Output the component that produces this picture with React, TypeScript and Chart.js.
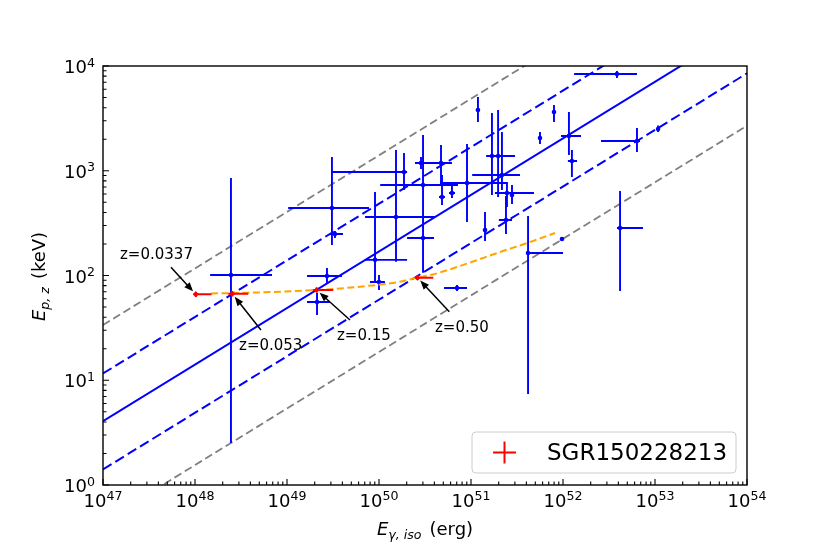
import React, { useEffect, useRef } from 'react';
import { Chart, registerables } from 'chart.js';

Chart.register(...registerables);

const FONT = '"DejaVu Sans", "Liberation Sans", sans-serif';

// comparison sample: E_iso (erg) and rest-frame E_p (keV), with error ranges
const eIso = [2.46e48, 2.72e49, 2.12e49, 1.87e50, 3.08e49, 3.32e49, 1.53e50, 9.05e49, 1.0e50, 3.01e50, 3.01e50, 4.72e50, 2.86e50, 4.84e50, 6.21e50, 9.05e50, 1.69e51, 1.97e51, 2.17e51, 2.46e51, 2.79e51, 2.40e51, 1.42e51, 7.04e50, 4.17e51, 9.75e51, 1.19e51, 7.98e51, 5.62e51, 1.16e52, 1.25e52, 3.86e52, 6.37e52, 1.08e53, 4.17e52];
const eIsoLow = [1.46e48, 1.65e49, 1.65e49, 3.08e49, 1.03e49, 2.93e49, 7.05e49, 7.05e49, 7.98e49, 1.03e50, 2.02e50, 3.41e50, 2.46e50, 4.49e50, 5.77e50, 4.60e50, 1.46e51, 1.61e51, 1.03e51, 1.82e51, 2.65e51, 2.01e51, 1.35e51, 5.09e50, 3.96e51, 9.75e51, 1.13e51, 7.62e51, 5.37e51, 9.51e51, 1.13e52, 1.32e52, 2.59e52, 1.05e53, 3.86e52];
const eIsoHigh = [6.87e48, 3.96e49, 2.93e49, 2.02e50, 7.79e49, 4.06e49, 4.06e50, 2.02e50, 1.16e50, 7.22e50, 3.96e50, 6.21e50, 3.41e50, 5.21e50, 6.70e50, 2.52e51, 2.07e51, 3.01e51, 3.41e51, 4.84e51, 2.93e51, 2.79e51, 1.49e51, 9.05e50, 1.0e52, 9.75e51, 1.25e51, 8.36e51, 5.89e51, 1.57e52, 1.42e52, 6.37e52, 6.87e52, 1.12e53, 7.41e52];
const epz = [101, 98.9, 55.8, 973, 441, 249, 362, 141, 86.7, 731, 228, 1186, 1186, 561, 613, 764, 1383, 1383, 910, 613, 587, 339, 272, 76.0, 164, 223, 3802, 3639, 2055, 2148, 1239, 8395, 1923, 2504, 284];
const epzLow = [2.52, 83.0, 42.0, 655, 195, 228, 135, 84.8, 72.7, 378, 106, 715, 1040, 471, 549, 324, 587, 561, 655, 451, 482, 249, 213, 71.1, 7.39, 223, 2919, 2919, 1800, 1413, 871, 7678, 1510, 2344, 71.1];
const epzHigh = [853, 118, 68.1, 1477, 1352, 266, 1578, 627, 101, 2195, 471, 1762, 1352, 910, 715, 1800, 3556, 3802, 2344, 781, 731, 574, 404, 81.2, 370, 223, 5058, 4246, 2344, 3639, 1578, 8954, 2559, 2700, 641];

// SGR 150228213 at the four trial redshifts
const sgrLabel = 'SGR150228213';
const sgrE = [1.02e48, 2.54e48, 2.10e49, 2.62e50];
const sgrELow = [0.96e48, 2.30e48, 1.90e49, 2.46e50];
const sgrEHigh = [1.51e48, 3.79e48, 3.18e49, 3.89e50];
const sgrEp = [66.2, 67.0, 72.7, 95.3];
const sgrEpLow = [62.5, 63.3, 68.8, 90.5];
const sgrEpHigh = [70.0, 71.0, 76.8, 100.5];
const sgrZ = ['z=0.0337', 'z=0.053', 'z=0.15', 'z=0.50'];

// annotation text anchors and arrow tails (data coords)
const annoTextE = [1.53e47, 3.01e48, 3.49e49, 4.06e50];
const annoTextEp = [145.3, 19.4, 24.2, 29.1];
const annoTailE = [5.48e47, 5.21e48, 4.84e49, 5.81e50];
const annoTailEp = [119.7, 30.2, 37.6, 45.1];

// redshift track of the source (orange dashed)
const curveE = [1.49e48, 3.77e48, 8.4e48, 2.12e49, 3.16e49, 7.4e49, 1.57e50, 2.59e50, 3.86e50, 9.06e50, 2.07e51, 4.06e51, 8.2e51];
const curveEp = [67.3, 68.5, 70.0, 72.7, 74.3, 79.4, 86.1, 95.3, 102.3, 130, 167.6, 204, 254.6];

// Amati relation and its scatter bands, read at both ends of the x range
const relE = [1e47, 1e54];
const amatiMid = [4.07, 24500];
const amatiUp1 = [11.6, 70100];
const amatiLow1 = [1.41, 8510];
const amatiUp2 = [33.7, 202800];
const amatiLow2 = [0.447, 2690];

const xExps = [47, 48, 49, 50, 51, 52, 53, 54];
const yExps = [0, 1, 2, 3, 4];

const pts = (xs: number[], ys: number[]) => xs.map((x, i) => ({ x, y: ys[i] }));

function drawPow(ctx: CanvasRenderingContext2D, exp: number, x: number, y: number, align: 'center' | 'right') {
  ctx.font = `18px ${FONT}`;
  const wb = ctx.measureText('10').width;
  ctx.font = `12.6px ${FONT}`;
  const we = ctx.measureText(String(exp)).width;
  const left = align === 'center' ? x - (wb + we) / 2 : x - (wb + we);
  ctx.font = `18px ${FONT}`;
  ctx.fillText('10', left, y);
  ctx.font = `12.6px ${FONT}`;
  ctx.fillText(String(exp), left + wb, y - 6.5);
}

function drawSubLabel(ctx: CanvasRenderingContext2D, main: string, sub: string, rest: string, cx: number, y: number) {
  ctx.font = `italic 18px ${FONT}`;
  const wm = ctx.measureText(main).width;
  ctx.font = `italic 12.6px ${FONT}`;
  const ws = ctx.measureText(sub).width;
  ctx.font = `18px ${FONT}`;
  const wr = ctx.measureText(rest).width;
  const gap = 8;
  let left = cx - (wm + ws + gap + wr) / 2;
  ctx.font = `italic 18px ${FONT}`;
  ctx.fillText(main, left, y);
  left += wm;
  ctx.font = `italic 12.6px ${FONT}`;
  ctx.fillText(sub, left, y + 3.5);
  left += ws + gap;
  ctx.font = `18px ${FONT}`;
  ctx.fillText(rest, left, y);
}

const decor = {
  id: 'decor',
  beforeDatasetDraw(chart: any, args: any) {
    const ds: any = chart.data.datasets[args.index];
    const eb = ds.errorBars;
    if (!eb) return;
    const { ctx, chartArea: a, scales: { x, y } } = chart;
    ctx.save();
    ctx.beginPath();
    ctx.rect(a.left, a.top, a.right - a.left, a.bottom - a.top);
    ctx.clip();
    ctx.strokeStyle = ds.borderColor;
    ctx.lineWidth = eb.width;
    ctx.beginPath();
    eb.x.forEach((v: number, i: number) => {
      const px = x.getPixelForValue(v);
      const py = y.getPixelForValue(eb.y[i]);
      const x0 = x.getPixelForValue(eb.xLow[i]);
      const x1 = x.getPixelForValue(eb.xHigh[i]);
      const y0 = y.getPixelForValue(eb.yLow[i]);
      const y1 = y.getPixelForValue(eb.yHigh[i]);
      if (x1 - x0 > 0.5) { ctx.moveTo(x0, py); ctx.lineTo(x1, py); }
      if (y0 - y1 > 0.5) { ctx.moveTo(px, y0); ctx.lineTo(px, y1); }
    });
    ctx.stroke();
    ctx.restore();
  },
  afterDraw(chart: any) {
    const { ctx, chartArea: a, scales: { x, y } } = chart;
    ctx.save();
    ctx.fillStyle = '#000';
    ctx.strokeStyle = '#000';

    // inward ticks
    ctx.lineWidth = 1.1;
    ctx.beginPath();
    for (let d = xExps[0]; d < xExps[xExps.length - 1]; d++) {
      for (let m = 2; m <= 9; m++) {
        const px = x.getPixelForValue(m * 10 ** d);
        ctx.moveTo(px, a.bottom); ctx.lineTo(px, a.bottom - 3.5);
      }
    }
    for (let d = yExps[0]; d < yExps[yExps.length - 1]; d++) {
      for (let m = 2; m <= 9; m++) {
        const py = y.getPixelForValue(m * 10 ** d);
        ctx.moveTo(a.left, py); ctx.lineTo(a.left + 3.5, py);
      }
    }
    xExps.forEach((e) => {
      const px = x.getPixelForValue(10 ** e);
      ctx.moveTo(px, a.bottom); ctx.lineTo(px, a.bottom - 6);
    });
    yExps.forEach((e) => {
      const py = y.getPixelForValue(10 ** e);
      ctx.moveTo(a.left, py); ctx.lineTo(a.left + 6, py);
    });
    ctx.stroke();

    // frame
    ctx.lineWidth = 1.4;
    ctx.strokeRect(a.left, a.top, a.right - a.left, a.bottom - a.top);

    // tick labels
    ctx.textAlign = 'left';
    ctx.textBaseline = 'alphabetic';
    xExps.forEach((e) => drawPow(ctx, e, x.getPixelForValue(10 ** e), a.bottom + 21.5, 'center'));
    yExps.forEach((e) => drawPow(ctx, e, a.left - 8, y.getPixelForValue(10 ** e) + 7, 'right'));

    // axis titles
    drawSubLabel(ctx, 'E', 'γ, iso', '(erg)', (a.left + a.right) / 2, a.bottom + 50);
    ctx.save();
    ctx.translate(a.left - 58, (a.top + a.bottom) / 2 + 1);
    ctx.rotate(-Math.PI / 2);
    drawSubLabel(ctx, 'E', 'p, z', '(keV)', 0, 0);
    ctx.restore();

    // annotations
    ctx.font = `15px ${FONT}`;
    ctx.lineWidth = 1.5;
    sgrZ.forEach((label, i) => {
      ctx.fillText(label, x.getPixelForValue(annoTextE[i]), y.getPixelForValue(annoTextEp[i]));
      const tx = x.getPixelForValue(annoTailE[i]);
      const ty = y.getPixelForValue(annoTailEp[i]);
      const px = x.getPixelForValue(sgrE[i]);
      const py = y.getPixelForValue(sgrEp[i]);
      const dx = px - tx, dy = py - ty;
      const len = Math.hypot(dx, dy);
      const ux = dx / len, uy = dy / len;
      const hx = px - ux * 4, hy = py - uy * 4;
      ctx.beginPath();
      ctx.moveTo(tx, ty);
      ctx.lineTo(hx - ux * 6, hy - uy * 6);
      ctx.stroke();
      ctx.beginPath();
      ctx.moveTo(hx, hy);
      ctx.lineTo(hx - ux * 9 - uy * 3.6, hy - uy * 9 + ux * 3.6);
      ctx.lineTo(hx - ux * 9 + uy * 3.6, hy - uy * 9 - ux * 3.6);
      ctx.closePath();
      ctx.fill();
    });

    // legend
    const lw = 264, lh = 41;
    const lx = a.right - 11 - lw, ly = a.bottom - 12 - lh;
    ctx.beginPath();
    ctx.roundRect(lx, ly, lw, lh, 4);
    ctx.fillStyle = 'rgba(255,255,255,0.8)';
    ctx.fill();
    ctx.strokeStyle = '#cccccc';
    ctx.lineWidth = 1;
    ctx.stroke();
    const hcx = lx + 32.5, hcy = ly + lh / 2;
    ctx.strokeStyle = '#ff0000';
    ctx.lineWidth = 2;
    ctx.beginPath();
    ctx.moveTo(hcx - 11.5, hcy); ctx.lineTo(hcx + 11.5, hcy);
    ctx.moveTo(hcx, hcy - 11); ctx.lineTo(hcx, hcy + 11);
    ctx.stroke();
    ctx.fillStyle = '#000';
    ctx.font = `23px ${FONT}`;
    ctx.fillText(sgrLabel, lx + 75, ly + 28);

    ctx.restore();
  },
};

const lineSet = (ys: number[], color: string, dash: number[], width: number) => ({
  data: pts(relE, ys),
  showLine: true,
  borderColor: color,
  borderWidth: width,
  borderDash: dash,
  pointRadius: 0,
  fill: false,
});

export default function App() {
  const canvasRef = useRef<HTMLCanvasElement>(null);

  useEffect(() => {
    if (!canvasRef.current) return;
    const chart = new Chart(canvasRef.current, {
      type: 'scatter',
      data: {
        datasets: [
          {
            label: sgrLabel,
            data: pts(sgrE, sgrEp),
            pointStyle: 'rectRot',
            pointRadius: 3,
            pointBorderWidth: 0,
            backgroundColor: '#ff0000',
            borderColor: '#ff0000',
            errorBars: { x: sgrE, y: sgrEp, xLow: sgrELow, xHigh: sgrEHigh, yLow: sgrEpLow, yHigh: sgrEpHigh, width: 2 },
          },
          {
            data: pts(curveE, curveEp),
            showLine: true,
            borderColor: '#ffa500',
            borderWidth: 2,
            borderDash: [7, 3.5],
            pointRadius: 0,
            cubicInterpolationMode: 'monotone',
            fill: false,
          },
          {
            data: pts(eIso, epz),
            pointRadius: 2.3,
            pointBorderWidth: 0,
            backgroundColor: '#0000ff',
            borderColor: '#0000ff',
            errorBars: { x: eIso, y: epz, xLow: eIsoLow, xHigh: eIsoHigh, yLow: epzLow, yHigh: epzHigh, width: 1.9 },
          },
          lineSet(amatiMid, '#0000ff', [], 2),
          lineSet(amatiUp1, '#0000ff', [10, 4.5], 2),
          lineSet(amatiLow1, '#0000ff', [10, 4.5], 2),
          lineSet(amatiUp2, '#808080', [8, 4], 1.8),
          lineSet(amatiLow2, '#808080', [8, 4], 1.8),
        ] as any,
      },
      options: {
        animation: false,
        responsive: false,
        events: [],
        layout: { padding: { left: 103, right: 83, top: 66, bottom: 69 } },
        plugins: { legend: { display: false }, tooltip: { enabled: false } },
        scales: {
          x: { type: 'logarithmic', min: 1e47, max: 1e54, display: false },
          y: { type: 'logarithmic', min: 1, max: 1e4, display: false },
        },
      },
      plugins: [decor],
    } as any);
    return () => chart.destroy();
  }, []);

  return (
    <div style={{ position: 'fixed', left: 0, top: 0, width: 830, height: 554, background: '#ffffff' }}>
      <canvas ref={canvasRef} width={830} height={554} style={{ display: 'block' }} />
    </div>
  );
}
